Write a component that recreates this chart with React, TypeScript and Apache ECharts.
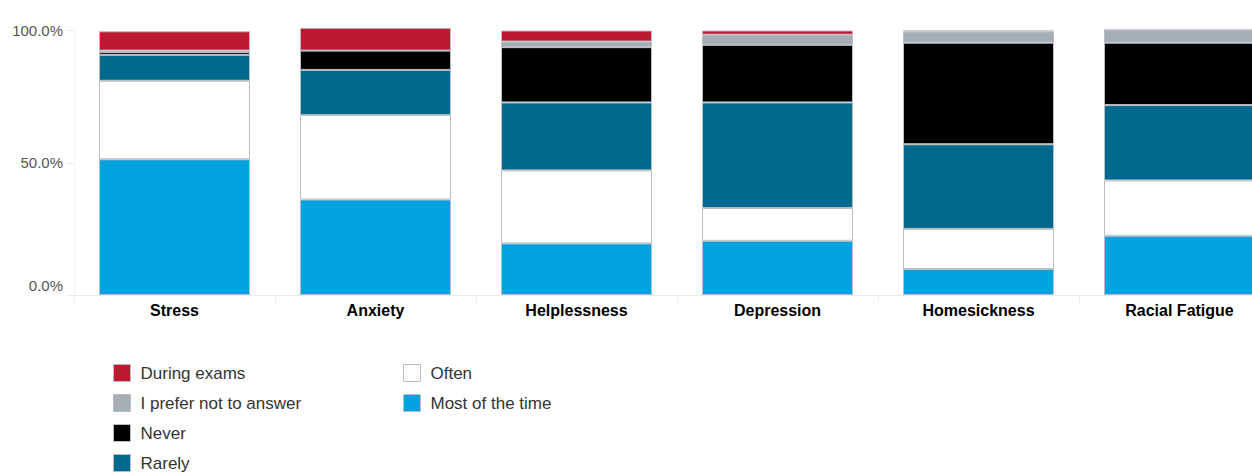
import React, { useEffect, useRef } from "react";
import * as echarts from "echarts";

const categories = ["Stress", "Anxiety", "Helplessness", "Depression", "Homesickness", "Racial Fatigue"];
const mostOfTheTime = [51.3, 36.1, 19.5, 20.5, 9.8, 22.4];
const often = [29.7, 31.9, 27.6, 12.4, 15.2, 20.9];
const rarely = [9.8, 17.1, 25.7, 39.9, 32.0, 28.5];
const never = [1.1, 7.3, 20.9, 21.8, 38.4, 23.6];
const preferNot = [0.5, 0, 2.1, 3.8, 4.2, 4.8];
const duringExams = [7.3, 8.6, 4.2, 1.6, 0.4, 0];
const yTicks = [0, 50, 100];

const seriesDefs = [
  { name: "Most of the time", data: mostOfTheTime, color: "#00A2E0" },
  { name: "Often", data: often, color: "#FFFFFF" },
  { name: "Rarely", data: rarely, color: "#006A8E" },
  { name: "Never", data: never, color: "#000000" },
  { name: "I prefer not to answer", data: preferNot, color: "#A7ADB4" },
  { name: "During exams", data: duringExams, color: "#BE1931" },
];

const FONT = "'Liberation Sans', Arial, sans-serif";
const BORDER = "#B9BDC2";

export default function App() {
  const ref = useRef<HTMLDivElement>(null);
  useEffect(() => {
    if (!ref.current) return;
    const chart = echarts.init(ref.current, undefined, { renderer: "svg" });
    const legendCommon = {
      orient: "vertical",
      top: 364,
      height: 140,
      padding: 0,
      itemWidth: 17,
      itemHeight: 17,
      itemGap: 12,
      icon: "rect",
      itemStyle: { borderColor: BORDER, borderWidth: 1 },
      textStyle: { fontFamily: FONT, fontSize: 17, lineHeight: 17, color: "#333", padding: [0, 0, 0, 5] },
      selectedMode: false,
    };
    chart.setOption({
      animation: false,
      textStyle: { fontFamily: FONT },
      grid: { left: 74, top: 30.5, width: 1206, height: 264.5, containLabel: false },
      legend: [
        { ...legendCommon, left: 113, data: ["During exams", "I prefer not to answer", "Never", "Rarely"] },
        { ...legendCommon, left: 403, data: ["Often", "Most of the time"] },
      ],
      xAxis: {
        type: "category",
        data: categories,
        axisLine: { show: true, lineStyle: { color: "#EBEBEB" } },
        axisTick: { show: true, length: 7, lineStyle: { color: "#EBEBEB" } },
        axisLabel: { fontFamily: FONT, fontSize: 16, fontWeight: "bold", color: "#000", margin: 7 },
      },
      yAxis: {
        type: "value",
        min: yTicks[0],
        max: yTicks[yTicks.length - 1],
        interval: 50,
        axisLine: { show: true, lineStyle: { color: "#F2F2F2" } },
        axisTick: { show: true, length: 7, lineStyle: { color: "#EBEBEB" } },
        splitLine: { show: false },
        axisLabel: {
          fontFamily: FONT,
          fontSize: 15,
          color: "#555",
          margin: 11,
          formatter: (v: number) => (v === 0 ? "{z|0.0%}" : v.toFixed(1) + "%"),
          rich: { z: { fontFamily: FONT, fontSize: 15, color: "#555", padding: [0, 0, 20, 0] } },
        },
      },
      series: seriesDefs.map((s) => ({
        name: s.name,
        type: "bar",
        stack: "total",
        data: s.data,
        barWidth: 151,
        clip: false,
        itemStyle: { color: s.color, borderColor: BORDER, borderWidth: 1 },
        emphasis: { disabled: true },
      })),
    });
    return () => chart.dispose();
  }, []);
  return (
    <div
      ref={ref}
      style={{ position: "fixed", left: 0, top: 0, width: 1290, height: 473, background: "#fff" }}
    />
  );
}
